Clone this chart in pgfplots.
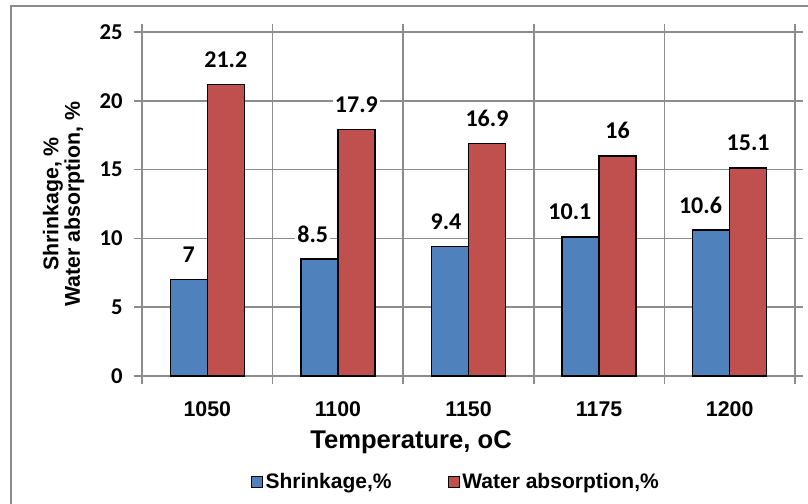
\documentclass[border=0pt]{standalone}
\usepackage{pgfplots}
\pgfplotsset{compat=1.18}
\usepackage{pgfplotstable}
\usepackage{fontspec}
\setmainfont{Liberation Sans}
\newfontfamily\calibri{Carlito}
\definecolor{barblue}{HTML}{4F81BD}
\definecolor{barred}{HTML}{C0504D}
\definecolor{gridgray}{HTML}{8C8C8C}

% x = category index, y = value, dx = horizontal nudge of the value label (pt)
\pgfplotstableread{
x y dx
0 7 0
1 8.5 -5
2 9.4 -3
3 10.1 -8
4 10.6 -8
}\shrinkage
\pgfplotstableread{
x y dx
0 21.2 0
1 17.9 0
2 16.9 0
3 16 0
4 15.1 0
}\waterabs

\begin{document}
\begin{tikzpicture}
\useasboundingbox (0,0) rectangle (606pt,-378pt);
% chart area frame
\draw[gridgray, line width=1.5pt] (8.5pt,-4.8pt) rectangle (640pt,-400pt);
\begin{axis}[
  at={(106.5pt,-282pt)}, anchor=south west,
  scale only axis, width=489.75pt, height=258pt,
  ybar=0pt, bar width=27.75pt,
  xmin=-0.5, xmax=4.5, ymin=0, ymax=25,
  xtick={-0.5,0.5,1.5,2.5,3.5,4.5}, xticklabels={,,,,,},
  extra x ticks={0,1,2,3,4},
  extra x tick labels={1050,1100,1150,1175,1200},
  extra x tick style={xmajorgrids=false, major tick length=0pt,
    tick label style={font=\bfseries\fontsize{16}{19}\selectfont, yshift=-15.5pt}},
  ytick={0,5,...,25},
  xmajorgrids, ymajorgrids,
  grid style={gridgray, line width=1.2pt},
  axis line style={gridgray, line width=1.2pt},
  tick style={gridgray, line width=1.2pt},
  tick align=outside, major tick length=6pt,
  /pgf/number format/assume math mode=true,
  yticklabel style={font=\calibri\bfseries\fontsize{17}{20}\selectfont, xshift=-5pt},
  xlabel={Temperature, oC},
  xlabel style={at={(rel axis cs:0.412,-0.192)}, anchor=center,
    font=\bfseries\fontsize{19.2}{23}\selectfont},
  ylabel={Shrinkage, \%\\Water absorption, \%},
  ylabel style={at={(rel axis cs:-0.12,0.5)}, anchor=center, align=center,
    font=\bfseries\fontsize{16}{16}\selectfont},
  nodes near coords={\calibri\bfseries\pgfmathprintnumber{\pgfplotspointmeta}},
  nodes near coords style={font=\fontsize{18}{21}\selectfont, text=black,
    fill=white, inner sep=1.5pt, anchor=center, yshift=18.75pt},
  legend columns=2,
  legend style={at={(rel axis cs:0.481,-0.308)}, anchor=center, draw=none, fill=none,
    font=\bfseries\fontsize{15.75}{18}\selectfont,
    /tikz/every even column/.append style={column sep=40pt}},
  legend image code/.code={\draw[#1, line width=0.9pt] (0pt,-4.1pt) rectangle (8.25pt,4.1pt);},
]
\addplot[fill=barblue, draw=black, line width=1.1pt,
  visualization depends on={\thisrow{dx}\as\dx},
  nodes near coords style={xshift=\dx pt}]
  table[x=x, y=y] {\shrinkage};
\addlegendentry{Shrinkage,\%}
\addplot[fill=barred, draw=black, line width=1.1pt,
  visualization depends on={\thisrow{dx}\as\dx},
  nodes near coords style={xshift=\dx pt}]
  table[x=x, y=y] {\waterabs};
\addlegendentry{Water absorption,\%}
\end{axis}
\end{tikzpicture}
\end{document}
